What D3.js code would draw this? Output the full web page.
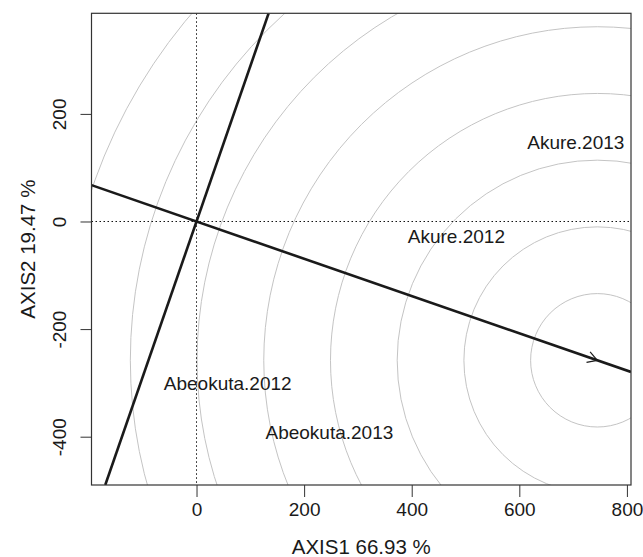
<!DOCTYPE html>
<html>
<head>
<meta charset="utf-8">
<script src="https://cdn.jsdelivr.net/npm/d3@7"></script>
<style>
  html, body { margin: 0; padding: 0; background: #fff; }
  svg text { font-family: "Liberation Sans", Arial, Helvetica, sans-serif; }
</style>
</head>
<body>
<svg id="chart" width="643" height="557"></svg>
<script>
// Environment labels and their biplot coordinates
const environments = ["Akure.2013", "Akure.2012", "Abeokuta.2012", "Abeokuta.2013"];
const envX = [705, 483, 58, 247];
const envY = [146, -27, -302, -393];

// Average-environment point (end of the arrow, centre of the rings)
const idealX = [745];
const idealY = [-258];

// Ring radii around the average-environment point
const ringRadii = [124, 248, 372, 496, 620, 744, 868, 992];

// Axis ticks and titles
const xTicks = [0, 200, 400, 600, 800];
const yTicks = [-400, -200, 0, 200];
const xTitle = "AXIS1 66.93 %";
const yTitle = "AXIS2 19.47 %";

const svg = d3.select("#chart");
const plot = { left: 91.5, right: 631, top: 13.3, bottom: 485 };

const x = d3.scaleLinear().domain([-195.2, 807.6]).range([plot.left, plot.right]);
const y = d3.scaleLinear().domain([-489.8, 387]).range([plot.bottom, plot.top]);
const pxPerUnit = (plot.right - plot.left) / (x.domain()[1] - x.domain()[0]);
const fmt = d => String(d);

svg.append("clipPath").attr("id", "plotClip")
  .append("rect")
  .attr("x", plot.left).attr("y", plot.top)
  .attr("width", plot.right - plot.left).attr("height", plot.bottom - plot.top);

const g = svg.append("g").attr("clip-path", "url(#plotClip)");

// Concentric rings
g.selectAll("circle.ring").data(ringRadii).join("circle")
  .attr("class", "ring")
  .attr("cx", x(idealX[0])).attr("cy", y(idealY[0]))
  .attr("r", d => d * pxPerUnit)
  .attr("fill", "none").attr("stroke", "#c4c4c4").attr("stroke-width", 1);

// Dotted reference lines through the origin
g.append("line")
  .attr("x1", plot.left).attr("x2", plot.right)
  .attr("y1", y(0)).attr("y2", y(0))
  .attr("stroke", "#111").attr("stroke-width", 1).attr("stroke-dasharray", "1.5,2.5");
g.append("line")
  .attr("x1", x(0)).attr("x2", x(0))
  .attr("y1", plot.top).attr("y2", plot.bottom)
  .attr("stroke", "#111").attr("stroke-width", 1).attr("stroke-dasharray", "1.5,2.5");

// Line through origin and the average-environment point, plus its perpendicular
const slope = idealY[0] / idealX[0];
const perp = -1 / slope;
const [x0, x1] = x.domain();
const [y0, y1] = y.domain();
g.append("line")
  .attr("x1", x(x0)).attr("y1", y(slope * x0))
  .attr("x2", x(x1)).attr("y2", y(slope * x1))
  .attr("stroke", "#1a1a1a").attr("stroke-width", 2.6);
g.append("line")
  .attr("x1", x(y0 / perp)).attr("y1", y(y0))
  .attr("x2", x(y1 / perp)).attr("y2", y(y1))
  .attr("stroke", "#1a1a1a").attr("stroke-width", 2.6);

// Arrow head at the average-environment point
const tipX = x(idealX[0]), tipY = y(idealY[0]);
const ang = Math.atan2(tipY - y(0), tipX - x(0));
const headLen = 11, headAng = Math.PI / 6;
[ang - headAng, ang + headAng].forEach(a => {
  g.append("line")
    .attr("x1", tipX).attr("y1", tipY)
    .attr("x2", tipX - headLen * Math.cos(a)).attr("y2", tipY - headLen * Math.sin(a))
    .attr("stroke", "#1a1a1a").attr("stroke-width", 1.2);
});

// Environment labels
svg.append("g").selectAll("text").data(environments).join("text")
  .attr("x", (d, i) => x(envX[i]))
  .attr("y", (d, i) => y(envY[i]))
  .attr("text-anchor", "middle").attr("dominant-baseline", "central")
  .attr("font-size", 19).attr("fill", "#1a1a1a")
  .text(d => d);

// Box
svg.append("rect")
  .attr("x", plot.left).attr("y", plot.top)
  .attr("width", plot.right - plot.left).attr("height", plot.bottom - plot.top)
  .attr("fill", "none").attr("stroke", "#333").attr("stroke-width", 1.2);

// X axis
const xAxis = svg.append("g")
  .attr("transform", `translate(0,${plot.bottom})`)
  .call(d3.axisBottom(x).tickValues(xTicks).tickSize(12).tickPadding(6).tickFormat(fmt));
xAxis.select(".domain").remove();
xAxis.selectAll(".tick line").attr("stroke", "#333");
xAxis.selectAll(".tick text")
  .attr("font-size", 19).attr("fill", "#1a1a1a")
  .attr("font-family", "Liberation Sans, Arial, sans-serif");

// Y axis with labels parallel to the axis
const yAxis = svg.append("g")
  .attr("transform", `translate(${plot.left},0)`)
  .call(d3.axisLeft(y).tickValues(yTicks).tickSize(11).tickFormat(fmt));
yAxis.select(".domain").remove();
yAxis.selectAll(".tick line").attr("stroke", "#333");
yAxis.selectAll(".tick text")
  .attr("x", null).attr("dy", null)
  .attr("transform", "translate(-32,0) rotate(-90)")
  .attr("text-anchor", "middle").attr("dominant-baseline", "central")
  .attr("font-size", 19).attr("fill", "#1a1a1a")
  .attr("font-family", "Liberation Sans, Arial, sans-serif");

// Axis titles
svg.append("text")
  .attr("x", (plot.left + plot.right) / 2).attr("y", 546)
  .attr("text-anchor", "middle").attr("dominant-baseline", "central")
  .attr("font-size", 20.5).attr("fill", "#1a1a1a")
  .text(xTitle);
svg.append("text")
  .attr("transform", `translate(27,${(plot.top + plot.bottom) / 2}) rotate(-90)`)
  .attr("text-anchor", "middle").attr("dominant-baseline", "central")
  .attr("font-size", 20.5).attr("fill", "#1a1a1a")
  .text(yTitle);
</script>
</body>
</html>
